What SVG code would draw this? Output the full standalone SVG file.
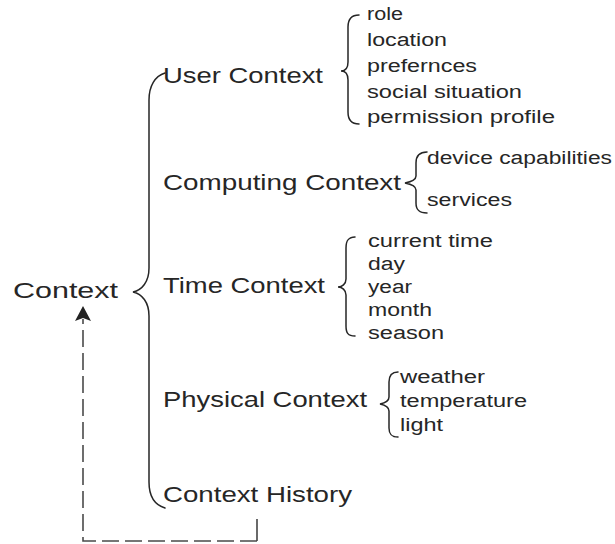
<svg xmlns="http://www.w3.org/2000/svg" width="615" height="544" viewBox="0 0 615 544">
  <defs>
    <style>
      .t { font-family: "Liberation Sans", Arial, sans-serif; fill: #262626; }
      .root { font-size: 22px; }
      .lvl1 { font-size: 22px; }
      .item { font-size: 18px; }
      .brace { fill: none; stroke: #262626; stroke-width: 1.5; stroke-linecap: round; }
      .dash { fill: none; stroke: #4a4a4a; stroke-width: 1.6; stroke-dasharray: 17 6; }
      .solid { fill: none; stroke: #444; stroke-width: 1.6; }
      .head { fill: #222; stroke: none; }
    </style>
  </defs>

  <rect width="615" height="544" fill="#fff"/>

  <!-- root node -->
  <g id="context">
    <text class="t root" x="13" y="298" textLength="105" lengthAdjust="spacingAndGlyphs">Context</text>
  </g>

  <!-- connectors: braces and feedback loop -->
  <g id="connectors">
    <path class="brace" d="M165 73 C155 76 149 86 149 100 L149 268 C149 282 142 290 133 292 C142 294 149 302 149 316 L149 482 C149 496 155 505 165 508"/>
    <path class="brace" d="M359 15 C351 15 348 19 348 27 L348 62 C348 68 345 71 341 71 C345 71 348 74 348 80 L348 112 C348 120 351 124 359 124"/>
    <path class="brace" d="M427 152 C419 152 416 156 416 163 L416 176 C416 180 410 182 405 183 C410 184 416 186 416 190 L416 203 C416 210 419 213 427 213"/>
    <path class="brace" d="M355 237 C348 237 346 241 346 248 L346 279 C346 284 342 287 338 287 C342 287 346 290 346 295 L346 326 C346 333 348 336 355 336"/>
    <path class="brace" d="M398 372 C391 372 389 376 389 382 L389 397 C389 401 385 403 380 404 C385 405 389 407 389 411 L389 428 C389 434 391 437 398 437"/>
    <!-- history feeds back into context -->
    <path class="dash" d="M257 541 L83 541 L83 319"/>
    <path class="head" d="M83 306 L91 321 L83 318 L75 321 Z"/>
    <path class="solid" d="M257 541 L257 519"/>
  </g>

  <!-- user context -->
  <g id="user-context">
    <text class="t lvl1" x="163" y="83" textLength="160" lengthAdjust="spacingAndGlyphs">User Context</text>
    <text class="t item" x="367" y="20" textLength="36" lengthAdjust="spacingAndGlyphs">role</text>
    <text class="t item" x="367" y="46" textLength="80" lengthAdjust="spacingAndGlyphs">location</text>
    <text class="t item" x="367" y="72" textLength="110" lengthAdjust="spacingAndGlyphs">prefernces</text>
    <text class="t item" x="367" y="98" textLength="155" lengthAdjust="spacingAndGlyphs">social situation</text>
    <text class="t item" x="367" y="123" textLength="188" lengthAdjust="spacingAndGlyphs">permission profile</text>
  </g>

  <!-- computing context -->
  <g id="computing-context">
    <text class="t lvl1" x="163" y="190" textLength="238" lengthAdjust="spacingAndGlyphs">Computing Context</text>
    <text class="t item" x="427" y="164" textLength="185" lengthAdjust="spacingAndGlyphs">device capabilities</text>
    <text class="t item" x="427" y="206" textLength="85" lengthAdjust="spacingAndGlyphs">services</text>
  </g>

  <!-- time context -->
  <g id="time-context">
    <text class="t lvl1" x="163" y="293" textLength="162" lengthAdjust="spacingAndGlyphs">Time Context</text>
    <text class="t item" x="368" y="247" textLength="125" lengthAdjust="spacingAndGlyphs">current time</text>
    <text class="t item" x="368" y="270" textLength="37" lengthAdjust="spacingAndGlyphs">day</text>
    <text class="t item" x="368" y="293" textLength="44" lengthAdjust="spacingAndGlyphs">year</text>
    <text class="t item" x="368" y="316" textLength="64" lengthAdjust="spacingAndGlyphs">month</text>
    <text class="t item" x="368" y="339" textLength="76" lengthAdjust="spacingAndGlyphs">season</text>
  </g>

  <!-- physical context -->
  <g id="physical-context">
    <text class="t lvl1" x="163" y="407" textLength="204" lengthAdjust="spacingAndGlyphs">Physical Context</text>
    <text class="t item" x="400" y="383" textLength="85" lengthAdjust="spacingAndGlyphs">weather</text>
    <text class="t item" x="400" y="407" textLength="127" lengthAdjust="spacingAndGlyphs">temperature</text>
    <text class="t item" x="400" y="431" textLength="43" lengthAdjust="spacingAndGlyphs">light</text>
  </g>

  <!-- context history -->
  <g id="context-history">
    <text class="t lvl1" x="163" y="502" textLength="189" lengthAdjust="spacingAndGlyphs">Context History</text>
  </g>
</svg>
